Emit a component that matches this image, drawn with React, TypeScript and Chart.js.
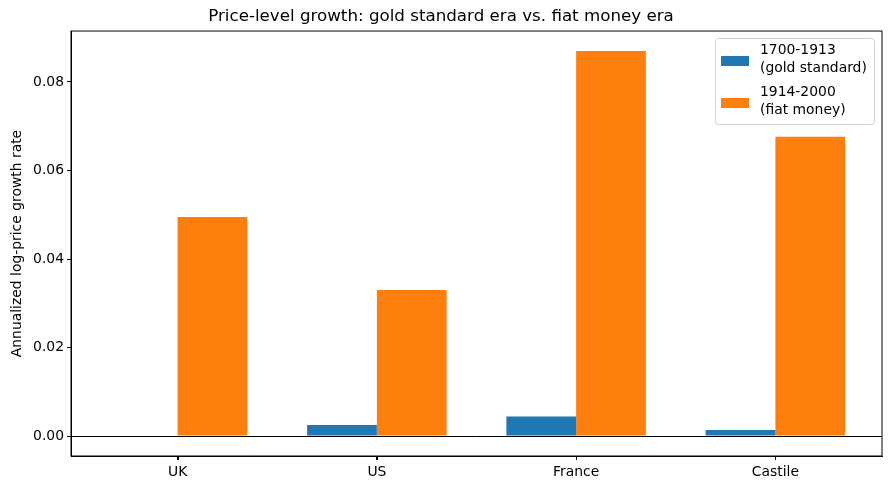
import React, { useEffect, useRef } from 'react';
import { Chart, registerables, Plugin } from 'chart.js';

Chart.register(...registerables);

const countries = ['UK', 'US', 'France', 'Castile'];
const goldEra = [0.0, 0.0025, 0.0044, 0.0014];
const fiatEra = [0.0495, 0.033, 0.087, 0.0676];
const seriesLabels = [['1700-1913', '(gold standard)'], ['1914-2000', '(fiat money)']];
const yTicks = [0, 0.02, 0.04, 0.06, 0.08];

const BLUE = '#1f77b4';
const ORANGE = '#ff7f0e';
const FONT = '"DejaVu Sans", sans-serif';

// frame, zero line, x tick marks and the in-axes legend, like matplotlib
const framePlugin: Plugin = {
  id: 'frame',
  afterDraw(chart) {
    const { ctx, chartArea: a } = chart;
    const xs = chart.scales.x;
    const y0 = Math.round(chart.scales.y.getPixelForValue(0)) + 0.5;
    const bottom = Math.round(a.bottom);
    ctx.save();
    ctx.strokeStyle = '#000';
    ctx.lineWidth = 1;
    ctx.beginPath();
    ctx.moveTo(a.left, y0);
    ctx.lineTo(a.right, y0);
    ctx.stroke();
    ctx.strokeRect(a.left, a.top, a.right - a.left, a.bottom - a.top);

    ctx.fillStyle = '#000';
    countries.forEach((_, i) => {
      let px = xs.getPixelForValue(i);
      if (!Number.isFinite(px)) px = a.left + ((i - xs.min) / (xs.max - xs.min)) * (a.right - a.left);
      ctx.fillRect(Math.round(px), bottom, 1, 4);
    });

    // legend
    const w = 159;
    const h = 86;
    const bx = Math.round(a.right - 8 - w);
    const by = Math.round(a.top + 7);
    ctx.fillStyle = 'rgba(255,255,255,0.8)';
    ctx.strokeStyle = '#d0d0d0';
    ctx.beginPath();
    ctx.roundRect(bx + 0.5, by + 0.5, w, h, 3);
    ctx.fill();
    ctx.stroke();
    ctx.font = `13.9px ${FONT}`;
    ctx.textBaseline = 'middle';
    const colors = [BLUE, ORANGE];
    seriesLabels.forEach((lines, i) => {
      const top = by + 12 + i * 42;
      ctx.fillStyle = colors[i];
      ctx.fillRect(bx + 6, top + 6, 28, 10);
      ctx.fillStyle = '#000';
      lines.forEach((t, j) => ctx.fillText(t, bx + 45, top + j * 18));
    });
    ctx.restore();
  },
};

export default function App() {
  const canvasRef = useRef<HTMLCanvasElement>(null);
  const chartRef = useRef<Chart | null>(null);

  useEffect(() => {
    document.body.style.margin = '0';
    if (!canvasRef.current) return;
    if (chartRef.current) chartRef.current.destroy();

    chartRef.current = new Chart(canvasRef.current, {
      type: 'bar',
      data: {
        datasets: [
          {
            label: seriesLabels[0].join(' '),
            data: goldEra.map((y, i) => ({ x: i, y })),
            backgroundColor: BLUE,
          },
          {
            label: seriesLabels[1].join(' '),
            data: fiatEra.map((y, i) => ({ x: i, y })),
            backgroundColor: ORANGE,
          },
        ],
      },
      options: {
        animation: false,
        responsive: false,
        devicePixelRatio: 1,
        layout: { padding: { left: 0, right: 7, top: 0, bottom: 0 } },
        datasets: { bar: { categoryPercentage: 0.7, barPercentage: 1 } },
        plugins: {
          legend: { display: false },
          tooltip: { enabled: false },
          title: {
            display: true,
            text: 'Price-level growth: gold standard era vs. fiat money era',
            color: '#000',
            font: { family: FONT, size: 16.7, weight: 'normal' },
            padding: { top: 7, bottom: 4 },
          },
        },
        scales: {
          x: {
            type: 'linear',
            min: -0.535,
            max: 3.535,
            offset: false,
            afterBuildTicks: (s: any) => { s.ticks = countries.map((_, i) => ({ value: i })); },
            grid: { drawOnChartArea: false, offset: false, tickLength: 4, color: '#000' },
            border: { color: '#000' },
            ticks: {
              color: '#000',
              font: { family: FONT, size: 13.9 },
              padding: 4,
              callback: (v: any) => countries[Math.round(Number(v))] ?? '',
            },
            afterFit: (s: any) => { s.height = 34; },
          },
          y: {
            min: -0.0045,
            max: 0.0915,
            afterBuildTicks: (s: any) => { s.ticks = yTicks.map((v) => ({ value: v })); },
            grid: { drawOnChartArea: false, tickLength: 4, color: '#000' },
            border: { color: '#000' },
            ticks: {
              color: '#000',
              font: { family: FONT, size: 13.9 },
              padding: 3,
              callback: (v: any) => Number(v).toFixed(2),
            },
            title: {
              display: true,
              text: 'Annualized log-price growth rate',
              color: '#000',
              font: { family: FONT, size: 13.9 },
              padding: { top: 9, bottom: 0 },
            },
            afterFit: (s: any) => { s.width = 71; },
          },
        },
      },
      plugins: [framePlugin],
    });

    return () => {
      chartRef.current?.destroy();
      chartRef.current = null;
    };
  }, []);

  return (
    <div style={{ width: 889, height: 490 }}>
      <canvas ref={canvasRef} width={889} height={490}></canvas>
    </div>
  );
}
